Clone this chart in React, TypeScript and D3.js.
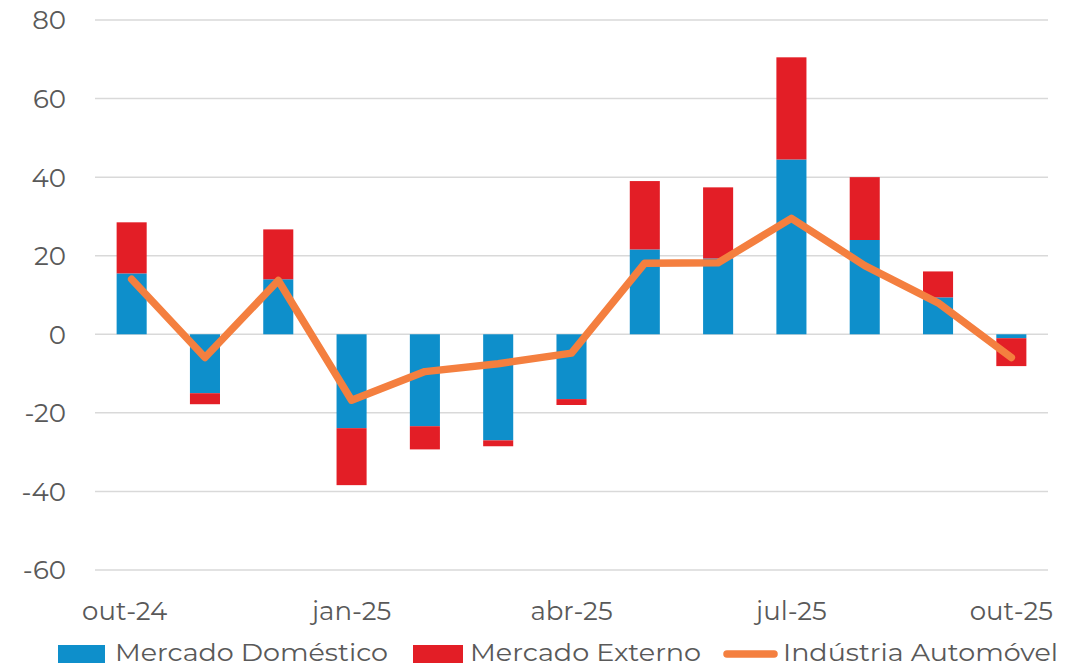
import React from 'react';
import * as d3 from 'd3';

const months = ['out-24', 'nov-24', 'dez-24', 'jan-25', 'fev-25', 'mar-25', 'abr-25', 'mai-25', 'jun-25', 'jul-25', 'ago-25', 'set-25', 'out-25'];
const domestico = [15.5, -15.0, 14.0, -23.9, -23.4, -27.0, -16.5, 21.6, 19.3, 44.5, 24.0, 9.4, -1.0];
const externo = [13.0, -2.8, 12.7, -14.5, -5.9, -1.5, -1.5, 17.4, 18.1, 26.0, 16.0, 6.6, -7.1];
const industria = [14.0, -5.9, 13.7, -16.8, -9.5, -7.5, -4.8, 18.1, 18.2, 29.5, 17.5, 8.0, -5.9];
const xTickLabels = ['out-24', 'jan-25', 'abr-25', 'jul-25', 'out-25'];
const yTicks = [-60, -40, -20, 0, 20, 40, 60, 80];

const W = 1081, H = 667;
const left = 95, right = 1048, top = 20, bottom = 570;
const BLUE = '#0E8FCB', RED = '#E31E26', ORANGE = '#F47F3F';
const FONT = 'Montserrat, "DejaVu Sans", sans-serif';

export default function App() {
  const x = d3.scaleBand().domain(months).range([left, right]).paddingInner(0.59).paddingOuter(0.295);
  const y = d3.scaleLinear().domain([-60, 80]).range([bottom, top]);
  const cx = (m: string) => (x(m) as number) + x.bandwidth() / 2;

  // stacked: external stacks on top of domestic in the same direction
  const bars = months.map((m, i) => {
    const d = domestico[i], e = externo[i];
    return { m, d0: 0, d1: d, e0: d, e1: d + e };
  });

  const line = d3.line<number>().x((_, i) => cx(months[i])).y(v => y(v));

  return (
    <svg width={W} height={H} style={{ position: 'absolute', left: 0, top: 0 }}>
      <rect width={W} height={H} fill="#fff" />
      {yTicks.map(t => (
        <g key={t}>
          <line x1={left} x2={right} y1={y(t)} y2={y(t)} stroke="#d9d9d9" strokeWidth={1.5} />
          <text x={66} y={y(t)} dy="0.36em" textAnchor="end" fontFamily={FONT} fontSize={26} fill="#595959">{t}</text>
        </g>
      ))}
      {bars.map(b => (
        <g key={b.m}>
          <rect x={x(b.m)} width={x.bandwidth()} y={y(Math.max(b.d0, b.d1))} height={Math.abs(y(b.d1) - y(b.d0))} fill={BLUE} />
          <rect x={x(b.m)} width={x.bandwidth()} y={y(Math.max(b.e0, b.e1))} height={Math.abs(y(b.e1) - y(b.e0))} fill={RED} />
        </g>
      ))}
      <path d={line(industria) || ''} fill="none" stroke={ORANGE} strokeWidth={7.5} strokeLinejoin="round" strokeLinecap="round" />
      {xTickLabels.map((l, i) => (
        <text key={l} x={cx(l) + (i === 0 ? -7 : 0)} y={620} textAnchor="middle" fontFamily={FONT} fontSize={26} fill="#595959">{l}</text>
      ))}
      <g fontFamily={FONT} fontSize={25} fill="#595959">
        <rect x={58} y={645} width={47} height={18} fill={BLUE} />
        <text x={115} y={661} textLength={273} lengthAdjust="spacingAndGlyphs">Mercado Doméstico</text>
        <rect x={413} y={645} width={50} height={18} fill={RED} />
        <text x={470} y={661} textLength={231} lengthAdjust="spacingAndGlyphs">Mercado Externo</text>
        <line x1={727} x2={774} y1={654} y2={654} stroke={ORANGE} strokeWidth={7.5} strokeLinecap="round" />
        <text x={783} y={661} textLength={275} lengthAdjust="spacingAndGlyphs">Indústria Automóvel</text>
      </g>
    </svg>
  );
}
